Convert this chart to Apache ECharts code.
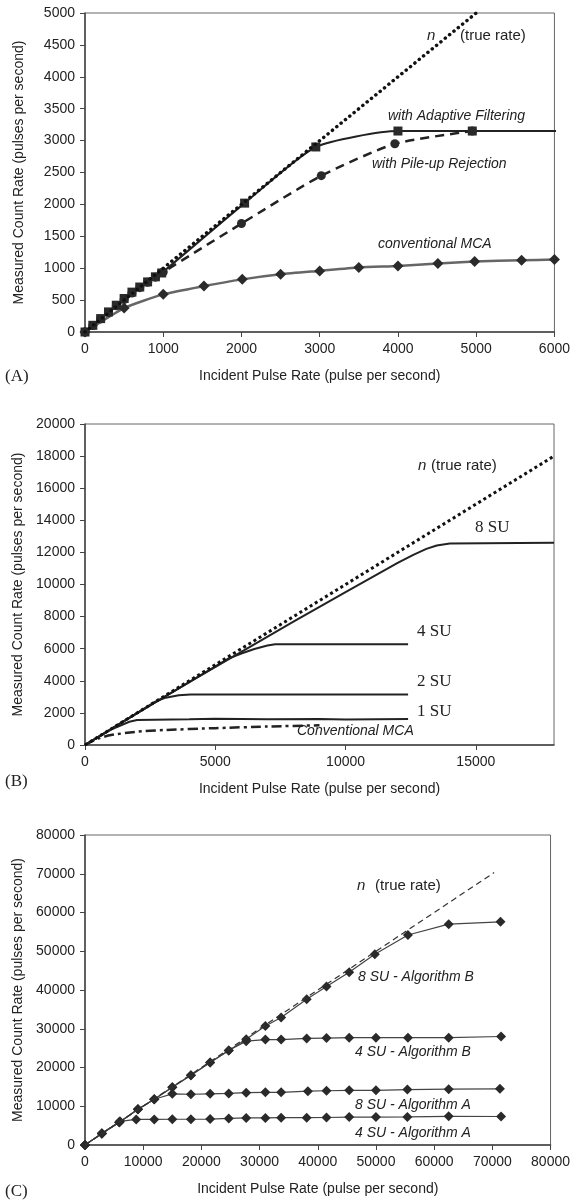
<!DOCTYPE html>
<html>
<head>
<meta charset="utf-8">
<script src="https://cdn.jsdelivr.net/npm/echarts@6/dist/echarts.min.js"></script>
<style>
html,body{margin:0;padding:0;background:#fff;}
#chart{width:573px;height:1203px;}
</style>
</head>
<body>
<div id="chart"></div>
<script>
// ---------- Panel A data ----------
const aTrueRate = [[0,0],[5000,5000]];
const aAdaptive = [[0,0],[100,105],[200,210],[300,315],[400,420],[500,525],[600,625],[700,705],[800,785],[900,865],[980,925],[2040,2020],[2950,2900],[4000,3150],[4950,3150],[6050,3150]];
const aPileup = [[0,0],[100,100],[200,205],[300,305],[400,410],[500,510],[600,610],[700,695],[800,780],[900,860],[1000,940],[2000,1700],[3020,2450],[3960,2950],[4950,3150]];
const aConventional = [[0,0],[500,375],[1000,590],[1520,720],[2010,825],[2500,905],[3000,958],[3500,1010],[4000,1036],[4510,1073],[4980,1104],[5580,1125],[6000,1135]];

// ---------- Panel B data ----------
const bTrueRate = [[0,0],[18000,18000]];
const b8SU = [[0,0],[2000,1985],[4000,3920],[6000,5800],[8000,7680],[10000,9520],[12000,11350],[12600,11850],[13100,12220],[13500,12430],[14000,12560],[18000,12600]];
const b4SU = [[0,0],[2000,1990],[4000,3920],[5500,5380],[6000,5700],[6500,5980],[7000,6200],[7300,6280],[12400,6280]];
const b2SU = [[0,0],[2000,1990],[2700,2700],[3100,2950],[3600,3100],[4050,3150],[12400,3150]];
const b1SU = [[0,0],[1000,960],[1700,1450],[2000,1560],[4000,1600],[5000,1630],[7000,1600],[9000,1620],[10000,1590],[12400,1620]];
const bConventional = [[0,0],[500,400],[1000,620],[2000,830],[3000,930],[5000,1050],[7000,1150],[9000,1230]];

// ---------- Panel C data ----------
const cTrueRate = [[0,0],[70300,70300]];
const c8SUB = [[0,0],[2900,3000],[5900,5900],[9100,9200],[11900,11800],[15000,14900],[18200,18000],[21500,21300],[24700,24400],[27700,27300],[31000,30700],[33700,32900],[38100,37600],[41500,40900],[45400,44600],[49800,49200],[55500,54200],[62500,57000],[71400,57600]];
const c4SUB = [[0,0],[2900,3000],[5900,5900],[9100,9200],[11900,11800],[15000,14900],[18200,18000],[21500,21300],[24700,24400],[27700,26800],[31000,27200],[33700,27200],[38100,27500],[41500,27600],[45400,27700],[50000,27700],[55500,27700],[62500,27700],[71500,28000]];
const c8SUA = [[0,0],[2900,3000],[5900,5900],[9100,9200],[11900,11800],[15000,13200],[18200,13100],[21500,13200],[24700,13300],[27700,13500],[31000,13600],[33700,13600],[38300,13900],[41500,14000],[45400,14100],[50000,14100],[55400,14300],[62500,14400],[71300,14500]];
const c4SUA = [[0,0],[2900,3000],[6000,6100],[8800,6600],[11900,6600],[15000,6650],[18200,6650],[21500,6700],[24700,6850],[27700,7000],[31000,7000],[33700,7050],[38100,7050],[41500,7100],[45400,7200],[50000,7200],[55400,7250],[62500,7400],[71500,7350]];

// ---------- Tick settings ----------
const aXTicks = {min:0, max:6000, interval:1000};
const aYTicks = {min:0, max:5000, interval:500};
const bXTicks = {min:0, max:18000, interval:5000};
const bYTicks = {min:0, max:20000, interval:2000};
const cXTicks = {min:0, max:80000, interval:10000};
const cYTicks = {min:0, max:80000, interval:10000};

const xTitle = 'Incident Pulse Rate (pulse per second)';
const yTitle = 'Measured Count Rate (pulses per second)';

const FONT = '"Liberation Sans", Arial, sans-serif';
const SERIF = '"Liberation Serif", "Times New Roman", serif';
const INK = '#222';
const plain = v => String(v);

function xAxis(grid, t, extra){
  return {
    type:'value', gridIndex:grid, min:t.min, max:t.max, interval:t.interval,
    name:xTitle, nameLocation:'middle', nameGap:37,
    nameTextStyle:{fontFamily:FONT, fontSize:14, color:INK},
    axisLine:{show:true, lineStyle:{color:'#444', width:1.5}},
    axisTick:{show:true, inside:false, length:5, lineStyle:{color:'#444'}},
    axisLabel:Object.assign({fontFamily:FONT, fontSize:14, color:INK, margin:10, formatter:plain}, extra||{}),
    splitLine:{show:false}
  };
}
function yAxis(grid, t){
  return {
    type:'value', gridIndex:grid, min:t.min, max:t.max, interval:t.interval,
    name:yTitle, nameLocation:'middle', nameGap:59,
    nameTextStyle:{fontFamily:FONT, fontSize:14, color:INK},
    axisLine:{show:true, lineStyle:{color:'#444', width:1.5}},
    axisTick:{show:true, inside:false, length:5, lineStyle:{color:'#444'}},
    axisLabel:{fontFamily:FONT, fontSize:14, color:INK, margin:10, formatter:plain},
    splitLine:{show:false}
  };
}

function line(name, data, xi, opts){
  return Object.assign({
    name, type:'line', data, xAxisIndex:xi, yAxisIndex:xi,
    showSymbol:false, symbol:'none', animation:false, z:2
  }, opts);
}

const series = [
  // Panel A
  line('n (true rate)', aTrueRate, 0, {lineStyle:{color:'#111', width:3.5, type:[0.1,5.5], cap:'round'}, z:3}),
  line('with Adaptive Filtering', aAdaptive, 0, {smooth:0.2, symbol:'rect', symbolSize:9, showSymbol:true,
    itemStyle:{color:'#2a2a2a'}, lineStyle:{color:'#222', width:2}}),
  line('with Pile-up Rejection', aPileup, 0, {smooth:0.2, symbol:'circle', symbolSize:9, showSymbol:true,
    itemStyle:{color:'#2a2a2a'}, lineStyle:{color:'#222', width:2.5, type:[9,6]}}),
  line('conventional MCA', aConventional, 0, {smooth:0.2, symbol:'diamond', symbolSize:11, showSymbol:true,
    itemStyle:{color:'#2a2a2a'}, lineStyle:{color:'#666', width:2.5}}),
  // Panel B
  line('n (true rate) B', bTrueRate, 1, {lineStyle:{color:'#111', width:3, type:[3,3]}, z:3}),
  line('8 SU', b8SU, 1, {lineStyle:{color:'#222', width:2}}),
  line('4 SU', b4SU, 1, {lineStyle:{color:'#222', width:2}}),
  line('2 SU', b2SU, 1, {lineStyle:{color:'#222', width:2}}),
  line('1 SU', b1SU, 1, {lineStyle:{color:'#222', width:2}}),
  line('Conventional MCA', bConventional, 1, {smooth:0.2, lineStyle:{color:'#222', width:2.5, type:[10,4,3,4]}}),
  // Panel C
  line('n (true rate) C', cTrueRate, 2, {lineStyle:{color:'#333', width:1.2, type:[6,4]}, z:3}),
  line('8 SU - Algorithm B', c8SUB, 2, {symbol:'diamond', symbolSize:10, showSymbol:true, itemStyle:{color:'#2a2a2a'}, lineStyle:{color:'#444', width:1.2}}),
  line('4 SU - Algorithm B', c4SUB, 2, {symbol:'diamond', symbolSize:10, showSymbol:true, itemStyle:{color:'#2a2a2a'}, lineStyle:{color:'#444', width:1.2}}),
  line('8 SU - Algorithm A', c8SUA, 2, {symbol:'diamond', symbolSize:10, showSymbol:true, itemStyle:{color:'#2a2a2a'}, lineStyle:{color:'#444', width:1.2}}),
  line('4 SU - Algorithm A', c4SUA, 2, {symbol:'diamond', symbolSize:10, showSymbol:true, itemStyle:{color:'#2a2a2a'}, lineStyle:{color:'#444', width:1.2}})
];

function txt(x, y, s, o){
  return {type:'text', left:x, top:y-9, silent:true, z:10,
    style:Object.assign({text:s, fill:INK, font:'italic 14px '+FONT, textVerticalAlign:'top'}, o||{})};
}
const graphics = [
  // Panel A annotations
  txt(427, 37, 'n', {font:'italic 15px '+FONT}),
  txt(460, 37, '(true rate)', {font:'15px '+FONT}),
  txt(388, 118, 'with Adaptive Filtering'),
  txt(372, 166, 'with Pile-up Rejection'),
  txt(378, 246, 'conventional MCA'),
  txt(5, 377, '(A)', {font:'17px '+SERIF}),
  // Panel B annotations
  txt(418, 467, 'n', {font:'italic 15px '+FONT}),
  txt(431, 467, '(true rate)', {font:'15px '+FONT}),
  txt(475, 528, '8 SU', {font:'17px '+SERIF}),
  txt(417, 632, '4 SU', {font:'17px '+SERIF}),
  txt(417, 682, '2 SU', {font:'17px '+SERIF}),
  txt(417, 712, '1 SU', {font:'17px '+SERIF}),
  txt(297, 733, 'Conventional MCA'),
  txt(5, 782, '(B)', {font:'17px '+SERIF}),
  // Panel C annotations
  txt(357, 887, 'n', {font:'italic 15px '+FONT}),
  txt(375, 887, '(true rate)', {font:'15px '+FONT}),
  txt(358, 979, '8 SU - Algorithm B'),
  txt(355, 1054, '4 SU - Algorithm B'),
  txt(355, 1107, '8 SU - Algorithm A'),
  txt(355, 1135, '4 SU - Algorithm A'),
  txt(5, 1192, '(C)', {font:'17px '+SERIF})
];

const chart = echarts.init(document.getElementById('chart'), null, {renderer:'canvas'});
chart.setOption({
  backgroundColor:'#fff',
  animation:false,
  textStyle:{fontFamily:FONT},
  grid:[
    {left:85, top:13, width:471, height:319, show:true, borderColor:'#666', borderWidth:1, containLabel:false},
    {left:85, top:424, width:469, height:321, show:true, borderColor:'#666', borderWidth:1, containLabel:false},
    {left:85, top:835, width:469, height:310, show:true, borderColor:'#666', borderWidth:1, containLabel:false}
  ],
  xAxis:[ xAxis(0, aXTicks), xAxis(1, bXTicks, {showMaxLabel:false}), xAxis(2, cXTicks) ],
  yAxis:[ yAxis(0, aYTicks), yAxis(1, bYTicks), yAxis(2, cYTicks) ],
  series,
  graphic:graphics
});
</script>
</body>
</html>
